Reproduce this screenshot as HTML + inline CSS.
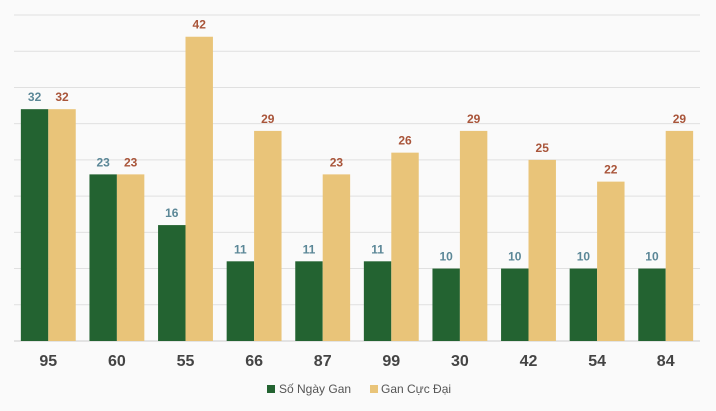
<!DOCTYPE html>
<html><head><meta charset="utf-8"><style>
body{margin:0;background:#fafafa;}
svg{display:block;font-family:"Liberation Sans",sans-serif;}
</style></head><body>
<svg id="chart" width="716" height="411">
<rect width="716" height="411" fill="#fafafa"/>
<g id="grid"></g><g id="bars"></g><g id="labels"></g>
<g>
<rect x="267" y="385" width="8" height="8" fill="#236331"/>
<text x="279" y="393" font-size="12" fill="#555">Số Ngày Gan</text>
<rect x="370" y="385" width="8" height="8" fill="#e9c479"/>
<text x="381" y="393" font-size="12" fill="#555">Gan Cực Đại</text>
</g>
</svg>
<script>
const categories=["95","60","55","66","87","99","30","42","54","84"];
const soNgayGan=[32,23,16,11,11,11,10,10,10,10];
const ganCucDai=[32,23,42,29,23,26,29,25,22,29];
const yTicks=[0,5,10,15,20,25,30,35,40,45];
const NS="http://www.w3.org/2000/svg";
const x0=14,x1=700,y0=341,yMax=45,yTop=15;
const band=(x1-x0)/categories.length;
const y=v=>y0-(v/yMax)*(y0-yTop);
function mk(tag,attrs,parent){const e=document.createElementNS(NS,tag);for(const k in attrs)e.setAttribute(k,attrs[k]);parent.appendChild(e);return e;}
const grid=document.getElementById('grid'),bars=document.getElementById('bars'),labels=document.getElementById('labels');
yTicks.forEach(t=>{const l=mk('line',{x1:x0,x2:x1,y1:y(t),y2:y(t),stroke:t===0?'#ccc':'#e0e0e0','stroke-width':1},grid);

});
const bw=band*0.4;
categories.forEach((c,i)=>{
  const cx=x0+band*(i+0.5);
  [[soNgayGan[i],'#236331','#5b8797',cx-bw,'so-ngay-gan'],[ganCucDai[i],'#e9c479','#a9553a',cx,'gan-cuc-dai']].forEach(([v,f,tc,bx,s])=>{
    const r=mk('rect',{x:bx,y:y(v),width:bw,height:y0-y(v),fill:f},bars);
    
    
    const t=mk('text',{x:bx+bw/2,y:y(v)-8,'text-anchor':'middle','font-size':12,'font-weight':'bold',fill:tc},labels);
    t.textContent=v;
    
    
  });
  const xl=mk('text',{x:cx,y:366,'text-anchor':'middle','font-size':16,'font-weight':'bold',fill:'#444'},labels);
  xl.textContent=c;
  
  
});
</script>
</body></html>
